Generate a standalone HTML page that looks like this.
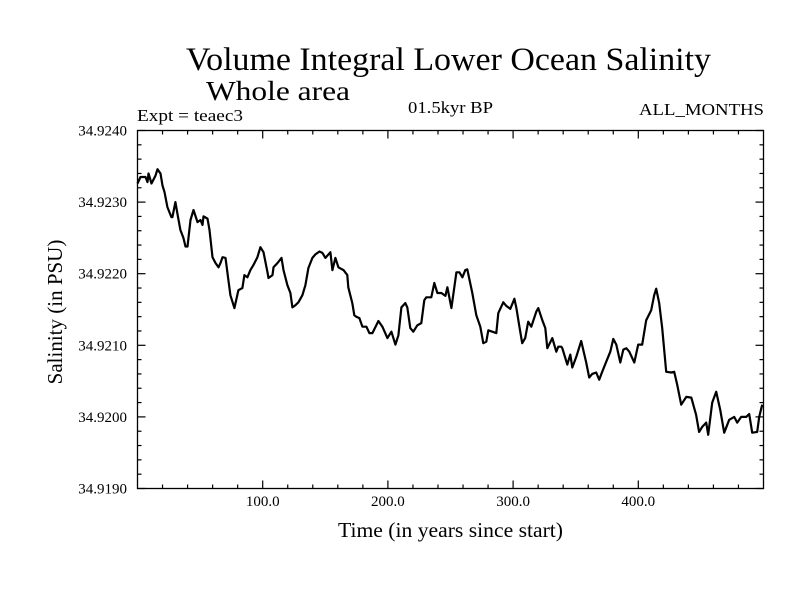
<!DOCTYPE html>
<html><head><meta charset="utf-8"><style>
body{margin:0;background:#fff}
svg text{font-family:"Liberation Serif",serif;fill:#000}
</style></head><body>
<svg id="chart" width="800" height="600" viewBox="0 0 800 600" xmlns="http://www.w3.org/2000/svg">
<rect width="800" height="600" fill="#fff"/>
<text x="186" y="70" font-size="33" textLength="525" lengthAdjust="spacingAndGlyphs">Volume Integral Lower Ocean Salinity</text>
<text x="206" y="100" font-size="27" textLength="144" lengthAdjust="spacingAndGlyphs">Whole area</text>
<text x="137" y="121" font-size="17" textLength="106" lengthAdjust="spacingAndGlyphs">Expt = teaec3</text>
<text x="408" y="113" font-size="17" textLength="85" lengthAdjust="spacingAndGlyphs">01.5kyr BP</text>
<text x="639" y="115" font-size="17" textLength="125" lengthAdjust="spacingAndGlyphs">ALL_MONTHS</text>
<text x="338" y="537" font-size="21" textLength="225" lengthAdjust="spacingAndGlyphs">Time (in years since start)</text>
<text transform="translate(62,312) rotate(-90)" font-size="21" text-anchor="middle">Salinity (in PSU)</text>
<g id="axes"></g>
<path id="series" fill="none" stroke="#000" stroke-width="2.2" stroke-linejoin="round"/>
<rect x="137.5" y="130.5" width="626" height="358" fill="none" stroke="#000" stroke-width="1.3"/>
</svg>
<script>
const years=[0,2.4,6.4,8,8.8,11.2,14.4,16,18.4,20,21.6,23.9,27.1,27.9,30.3,31.9,34.3,36.7,38.3,39.9,42.3,44.7,47.9,50.3,51.9,52.7,55.9,57.5,59.9,62.3,64.7,66.3,67.9,70.3,72.6,74.2,77.4,80.6,83.8,85.4,87.8,90.2,92.6,95.8,98.2,100.6,103.8,104.6,107.8,108.6,111.8,115,116.6,119.7,122.1,123.7,126.1,128.5,131.7,134.1,136.5,139.7,142.1,145.3,147.7,150.1,154.1,155.7,158.1,160.5,164.5,167.6,168.4,171.6,173.2,174.8,177.2,179.6,182.8,185.2,187.6,192.4,195.6,199.6,202.8,206,208.4,210.8,213.9,215.5,217.9,220.3,223.5,226.7,229.1,230.7,234.7,237.1,239.5,242.7,245.9,247.5,250.7,254.7,257.1,259.5,261.8,263.4,267.4,270.6,273.8,276.2,278.6,280.2,283.4,286.6,288.2,292.2,294.6,297.8,301,302.6,305,307.3,309.7,312.1,314.5,318.5,320.1,323.3,325.7,327.3,331.3,334.5,336.1,338.5,339.3,343.3,345.7,347.3,350.5,354.4,358.4,360.8,363.2,366.4,368.8,371.2,374.4,377.6,380,382.4,385.6,388,390.4,392.8,396.8,399.9,403.1,406.3,410.3,412.7,414.3,416.7,419.1,422.3,426.3,428.7,431.1,434.3,438.3,442.3,446.2,448.6,451,454.2,455.8,459,462.2,465.4,468.6,472.6,476.6,479,482.2,486.2,488.6,491,495,496.6,499];
const salinity=[34.92326,34.92335,34.92335,34.92328,34.9234,34.92326,34.92337,34.92346,34.9234,34.92323,34.92314,34.92293,34.92279,34.92279,34.923,34.92284,34.92261,34.9225,34.92238,34.92238,34.92275,34.92289,34.92272,34.92275,34.92268,34.9228,34.92277,34.92261,34.92223,34.92215,34.92209,34.92215,34.92223,34.92222,34.92191,34.9217,34.92152,34.92177,34.9218,34.92198,34.92195,34.92205,34.92212,34.92223,34.92237,34.9223,34.92202,34.92194,34.92198,34.92209,34.92215,34.92222,34.92205,34.92184,34.92173,34.92153,34.92156,34.9216,34.9217,34.92184,34.92208,34.92222,34.92227,34.92231,34.92229,34.92222,34.9223,34.92205,34.92222,34.92209,34.92205,34.92198,34.92181,34.92159,34.92142,34.9214,34.92138,34.92126,34.92126,34.92117,34.92117,34.92134,34.92126,34.9211,34.92119,34.92101,34.92114,34.92153,34.92159,34.92153,34.92124,34.92119,34.92128,34.92131,34.92163,34.92167,34.92167,34.92187,34.92173,34.92173,34.92169,34.92181,34.92152,34.92202,34.92202,34.92195,34.92205,34.92206,34.92173,34.92142,34.92126,34.92103,34.92105,34.92121,34.92119,34.92117,34.92145,34.9216,34.92155,34.92151,34.92165,34.92152,34.92126,34.92103,34.9211,34.92133,34.92126,34.92147,34.92152,34.92135,34.92124,34.92096,34.9211,34.92091,34.92098,34.92098,34.92096,34.92073,34.92087,34.92069,34.92084,34.92106,34.92076,34.92055,34.9206,34.92062,34.92052,34.92063,34.92077,34.92091,34.92109,34.92101,34.92076,34.92094,34.92096,34.92091,34.92076,34.92101,34.92101,34.92135,34.92149,34.9217,34.92179,34.92159,34.92124,34.92063,34.92062,34.92063,34.92045,34.92017,34.92028,34.92027,34.92003,34.91979,34.91986,34.91992,34.91975,34.9202,34.92035,34.9201,34.91978,34.91996,34.92,34.91992,34.92,34.92,34.92004,34.91978,34.91979,34.92,34.92017];
const xTickLabels=["100.0","200.0","300.0","400.0"];
const xTickValues=[100,200,300,400];
const yTickLabels=["34.9190","34.9200","34.9210","34.9220","34.9230","34.9240"];
const yTickValues=[34.919,34.920,34.921,34.922,34.923,34.924];

const X0=137.5,X1=763.5,Y0=488.5,Y1=130.5;
const xs=v=>X0+(v-0)/(500-0)*(X1-X0);
const ys=v=>Y0-(v-34.919)/(34.924-34.919)*(Y0-Y1);
const NS="http://www.w3.org/2000/svg";
const axes=document.getElementById('axes');
function line(x1,y1,x2,y2,name){
  const l=document.createElementNS(NS,'line');
  l.setAttribute('x1',x1);l.setAttribute('y1',y1);l.setAttribute('x2',x2);l.setAttribute('y2',y2);
  l.setAttribute('stroke','#000');l.setAttribute('stroke-width','1.2');
  
  
  axes.appendChild(l);
}
for(let v=20;v<500;v+=20){
  const x=xs(v),len=(v%100===0)?8:4;
  line(x,Y0,x,Y0-len,'x-tick');
  line(x,Y1,x,Y1+len,'x-tick-top');
}
for(let i=0;i<=25;i++){
  const v=34.919+i*0.0002,y=ys(v),len=(i%5===0)?8:4;
  line(X0,y,X0+len,y,'y-tick');
  line(X1,y,X1-len,y,'y-tick-right');
}
xTickLabels.forEach((t,i)=>{
  const e=document.createElementNS(NS,'text');
  e.setAttribute('x',xs(xTickValues[i]));e.setAttribute('y',506);
  e.setAttribute('font-size','15');e.setAttribute('text-anchor','middle');
  e.textContent=t;
  
  
  axes.appendChild(e);
});
yTickLabels.forEach((t,i)=>{
  const e=document.createElementNS(NS,'text');
  e.setAttribute('x',127);e.setAttribute('y',ys(yTickValues[i])+5);
  e.setAttribute('font-size','15');e.setAttribute('text-anchor','end');
  e.textContent=t;
  
  
  axes.appendChild(e);
});
let d='';
years.forEach((y,i)=>{d+=(i?'L':'M')+xs(y).toFixed(1)+','+ys(salinity[i]).toFixed(1);});
document.getElementById('series').setAttribute('d',d);
</script>
</body></html>
